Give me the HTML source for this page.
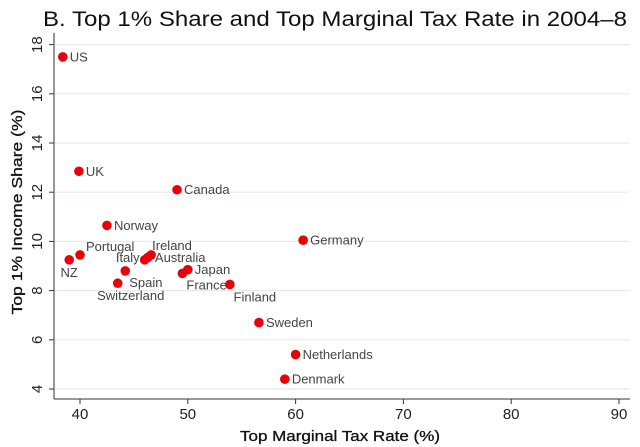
<!DOCTYPE html>
<html><head><meta charset="utf-8"><style>
body{margin:0;background:#fff}
svg{display:block;font-family:"Liberation Sans",Arial,sans-serif}
</style></head><body>
<svg id="c" width="640" height="447">
<text x="43" y="26" font-size="21" textLength="584" lengthAdjust="spacingAndGlyphs" fill="#111">B. Top 1% Share and Top Marginal Tax Rate in 2004–8</text>
<g id="grid"></g><g id="axes"></g><g id="pts"></g>
<text x="340" y="441" font-size="15" textLength="200" lengthAdjust="spacingAndGlyphs" text-anchor="middle" fill="#111" stroke="#111" stroke-width="0.3">Top Marginal Tax Rate (%)</text>
<text transform="translate(22,212) rotate(-90)" font-size="15" textLength="205" lengthAdjust="spacingAndGlyphs" text-anchor="middle" fill="#111" stroke="#111" stroke-width="0.3">Top 1% Income Share (%)</text>
</svg>
<script>
const countries=["US","UK","Canada","Norway","Portugal","NZ","Italy","Australia","Ireland","Switzerland","Spain","France","Japan","Finland","Sweden","Netherlands","Denmark","Germany"];
const taxRate=[38.4,39.9,49.0,42.5,40.0,39.0,46.0,46.3,46.6,43.5,44.2,49.5,50.0,53.9,56.6,60.0,59.0,60.7];
const topShare=[17.5,12.85,12.1,10.65,9.45,9.25,9.25,9.35,9.45,8.3,8.8,8.7,8.85,8.25,6.7,5.4,4.4,10.05];
const labelPos=["r","r","r","r","tr","b","tl","r","t","bl","br2","fr","r","br","r","r","r","r"];
const xTicks=[40,50,60,70,80,90];
const yTicks=[4,6,8,10,12,14,16,18];
const X=v=>80+(v-40)*10.78;
const Y=v=>389-(v-4)*24.6;
const NS="http://www.w3.org/2000/svg";
function mk(p,t,a){const e=document.createElementNS(NS,t);for(const k in a)e.setAttribute(k,a[k]);p.appendChild(e);return e;}
const grid=document.getElementById('grid'),axes=document.getElementById('axes'),pts=document.getElementById('pts');
yTicks.forEach(t=>{
 const g=mk(grid,'line',{x1:55,x2:630,y1:Y(t),y2:Y(t),stroke:'#e6ebeb','stroke-width':1.2});
 
 
 mk(axes,'line',{x1:49,x2:54,y1:Y(t),y2:Y(t),stroke:'#333'});
 const tx=mk(axes,'text',{transform:`translate(42,${Y(t)}) rotate(-90)`,'font-size':15,'text-anchor':'middle',fill:'#222'});
 tx.textContent=t;
 
 
});
xTicks.forEach(t=>{
 mk(axes,'line',{x1:X(t),x2:X(t),y1:399,y2:404,stroke:'#333'});
 const tx=mk(axes,'text',{x:X(t),y:419,'font-size':15,'text-anchor':'middle',fill:'#222'});
 tx.textContent=t;
 
 
});
const ya=mk(axes,'line',{x1:54,x2:54,y1:33,y2:399,stroke:'#333'});


const xa=mk(axes,'line',{x1:54,x2:630,y1:399,y2:399,stroke:'#333'});


countries.forEach((c,i)=>{
 const x=X(taxRate[i]),y=Y(topShare[i]);
 const p=mk(pts,'circle',{cx:x,cy:y,r:4.8,fill:'#e8000b'});
 
 
 let lx=x+7,ly=y+4.5,an='start';
 const pos=labelPos[i];
 if(pos==='tr'){lx=x+6;ly=y-4;}
 if(pos==='t'){lx=x+1;ly=y-5;}
 if(pos==='tl'){lx=x-5;ly=y+2;an='end';}
 if(pos==='b'){lx=x;ly=y+17;an='middle';}
 if(pos==='bl'){lx=x+13;ly=y+17;an='middle';}
 if(pos==='br2'){lx=x+4;ly=y+16;}
 if(pos==='fr'){lx=x+4;ly=y+16;}
 if(pos==='br'){lx=x+25;ly=y+17;an='middle';}
 const t=mk(pts,'text',{x:lx,y:ly,'font-size':13,fill:'#444','text-anchor':an});
 t.textContent=c;
 
 
});
</script>
</body></html>
